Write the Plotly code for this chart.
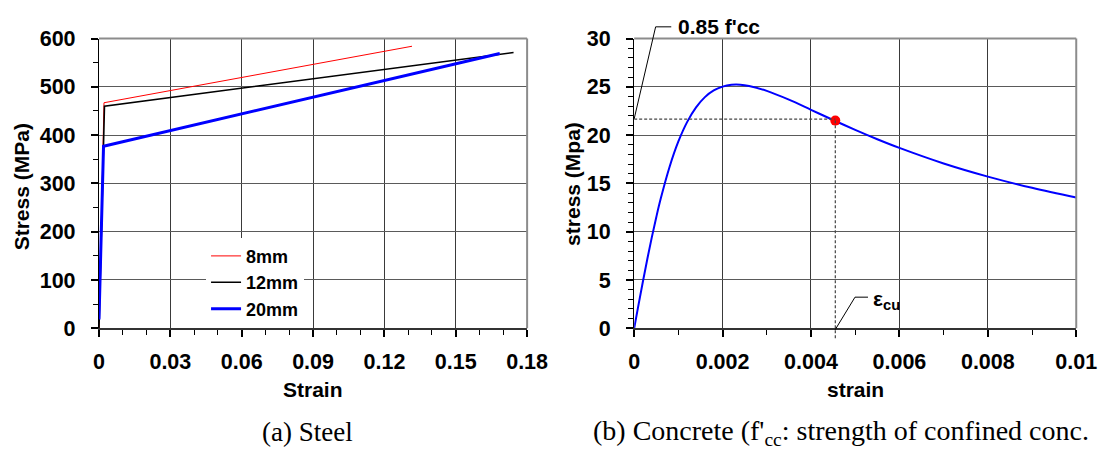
import plotly.graph_objects as go

W, H = 1119, 466

# ---------------- data ----------------
# (a) Steel stress-strain
strain_8mm = [0.0, 0.0021, 0.1316]
stress_8mm = [0, 467, 584]
strain_12mm = [0.0, 0.0023, 0.1743]
stress_12mm = [0, 460, 571]
strain_20mm = [0.0, 0.0019, 0.1685]
stress_20mm = [18, 377, 569]

steel_xticks = [0, 0.03, 0.06, 0.09, 0.12, 0.15, 0.18]
steel_xticktext = ["0", "0.03", "0.06", "0.09", "0.12", "0.15", "0.18"]
steel_yticks = [0, 100, 200, 300, 400, 500, 600]

# (b) Concrete stress-strain
conc_strain = [0, 0.0001, 0.0002, 0.0003, 0.0004, 0.0005, 0.0006, 0.0008, 0.001,
               0.0012, 0.0014, 0.0016, 0.0018, 0.002, 0.0022, 0.0024, 0.0026, 0.003,
               0.0035, 0.004, 0.0045, 0.005, 0.0055, 0.006, 0.007, 0.008, 0.009, 0.01]
conc_stress = [0, 2.48, 4.90, 7.23, 9.44, 11.50, 13.40, 16.70, 19.34,
               21.37, 22.87, 23.93, 24.62, 25.02, 25.21, 25.22, 25.09, 24.58,
               23.67, 22.62, 21.56, 20.54, 19.57, 18.67, 17.06, 15.70, 14.54, 13.54]
eps_cu = 0.00455
stress_cu = 21.5
fcc85 = 21.65

conc_xticks = [0, 0.002, 0.004, 0.006, 0.008, 0.01]
conc_xticktext = ["0", "0.002", "0.004", "0.006", "0.008", "0.01"]
conc_yticks = [0, 5, 10, 15, 20, 25, 30]

# ---------------- layout helpers ----------------
def px_x(p):
    return p / W

def px_y(p):
    return 1 - p / H

TOP, BOT = 29.0, 334.5
L1, R1 = 95.3, 534.0
L2, R2 = 643.7, 1096.7
ydom = [px_y(BOT), px_y(TOP)]

FONT = "Liberation Sans, Arial, sans-serif"
SERIF = "Liberation Serif, Times New Roman, serif"
tickfont = dict(family=FONT, size=21.5, color="black", weight="bold")

fig = go.Figure()

fig.add_trace(go.Scatter(x=strain_8mm, y=stress_8mm, mode="lines", name="8mm",
                         line=dict(color="#ff0000", width=1), xaxis="x", yaxis="y"))
fig.add_trace(go.Scatter(x=strain_12mm, y=stress_12mm, mode="lines", name="12mm",
                         line=dict(color="#000000", width=1.6), xaxis="x", yaxis="y"))
fig.add_trace(go.Scatter(x=strain_20mm, y=stress_20mm, mode="lines", name="20mm",
                         line=dict(color="#0000ff", width=3), xaxis="x", yaxis="y"))

fig.add_trace(go.Scatter(x=conc_strain, y=conc_stress, mode="lines", showlegend=False,
                         line=dict(color="#0000ff", width=2, shape="spline"),
                         xaxis="x2", yaxis="y2"))
fig.add_trace(go.Scatter(x=[eps_cu], y=[stress_cu], mode="markers", showlegend=False,
                         marker=dict(color="#ff0000", size=10),
                         xaxis="x2", yaxis="y2"))

def xaxis_cfg(domain, rng, tv, tt, minor_dt, anchor):
    return dict(domain=domain, range=rng, anchor=anchor, tickmode="array",
                tickvals=tv, ticktext=tt,
                showgrid=True, gridcolor="#3a3a3a", gridwidth=1,
                showline=True, linecolor="#333333", linewidth=2, zeroline=False,
                ticks="outside", ticklen=7, tickwidth=1.5, tickcolor="black",
                tickfont=tickfont, ticklabelstandoff=6,
                minor=dict(dtick=minor_dt, tick0=0, ticks="outside", ticklen=5,
                           tickwidth=1.2, tickcolor="black", showgrid=False))

def yaxis_cfg(anchor, rng, tv, minor_dt):
    return dict(domain=ydom, range=rng, anchor=anchor, tickmode="array", tickvals=tv,
                showgrid=True, gridcolor="#5a5a5a", gridwidth=1,
                showline=True, linecolor="black", linewidth=1.3, zeroline=False,
                ticks="outside", ticklen=7, tickwidth=1.5, tickcolor="black",
                tickfont=tickfont, ticklabelstandoff=11,
                minor=dict(dtick=minor_dt, tick0=0, ticks="outside", ticklen=5,
                           tickwidth=1.2, tickcolor="black", showgrid=False))

fig.update_layout(
    width=W, height=H, autosize=False,
    margin=dict(l=0, r=0, t=0, b=0),
    paper_bgcolor="white", plot_bgcolor="white",
    xaxis=xaxis_cfg([px_x(L1), px_x(R1)], [0, 0.18], steel_xticks, steel_xticktext, 0.01, "y"),
    yaxis=yaxis_cfg("x", [0, 600], steel_yticks, 50),
    xaxis2=xaxis_cfg([px_x(L2), px_x(R2)], [0, 0.01], conc_xticks, conc_xticktext, 0.001, "y2"),
    yaxis2=yaxis_cfg("x2", [0, 30], conc_yticks, 1),
    legend=dict(x=px_x(205), y=px_y(239), xanchor="left", yanchor="top",
                bgcolor="white", borderwidth=0, itemwidth=30,
                font=dict(family=FONT, size=18, color="black", weight="bold"),
                tracegroupgap=0),
    showlegend=True,
)

# top / right borders (gray)
shapes = []
for xr, yr in [("x", "y"), ("x2", "y2")]:
    shapes.append(dict(type="line", xref=f"{xr} domain", yref=f"{yr} domain",
                       x0=0, x1=1, y0=1, y1=1, line=dict(color="#8c8c8c", width=2)))
    shapes.append(dict(type="line", xref=f"{xr} domain", yref=f"{yr} domain",
                       x0=1, x1=1, y0=0, y1=1, line=dict(color="#8c8c8c", width=2)))

dash = dict(color="#444444", width=1.2, dash="3px,2px")
shapes.append(dict(type="line", xref="x2", yref="y2", x0=0, x1=eps_cu,
                   y0=fcc85, y1=fcc85, line=dash))
shapes.append(dict(type="line", xref="x2", yref="y2", x0=eps_cu, x1=eps_cu,
                   y0=0, y1=stress_cu, line=dash))
shapes.append(dict(type="line", xref="x2", yref="paper", x0=eps_cu, x1=eps_cu,
                   y0=px_y(345), y1=px_y(BOT), line=dash))

# leader lines
shapes.append(dict(type="path", xref="paper", yref="paper",
                   path=f"M{px_x(643.7)},{px_y(113.7)} L{px_x(665.7)},{px_y(16.7)} L{px_x(681.7)},{px_y(16.7)}",
                   line=dict(color="black", width=1)))
shapes.append(dict(type="path", xref="paper", yref="paper",
                   path=f"M{px_x(849.7)},{px_y(336)} L{px_x(870)},{px_y(301.7)} L{px_x(883.3)},{px_y(301.7)}",
                   line=dict(color="black", width=1)))
fig.update_layout(shapes=shapes)

bold = dict(family=FONT, size=21, color="black", weight="bold")
ann = [
    dict(text="Strain", x=px_x((L1 + R1) / 2), y=px_y(399), xref="paper", yref="paper",
         showarrow=False, font=bold, xanchor="center", yanchor="middle"),
    dict(text="Stress (MPa)", x=px_x(15.5), y=px_y((TOP + BOT) / 2 + 4), xref="paper", yref="paper",
         showarrow=False, font=bold, textangle=-90, xanchor="center", yanchor="middle"),
    dict(text="strain", x=px_x((L2 + R2) / 2), y=px_y(399), xref="paper", yref="paper",
         showarrow=False, font=bold, xanchor="center", yanchor="middle"),
    dict(text="stress (Mpa)", x=px_x(580.5), y=px_y((TOP + BOT) / 2), xref="paper", yref="paper",
         showarrow=False, font=bold, textangle=-90, xanchor="center", yanchor="middle"),
    dict(text="0.85 f'cc", x=px_x(687), y=px_y(16.5), xref="paper", yref="paper",
         showarrow=False, font=bold, xanchor="left", yanchor="middle"),
    dict(text="ε<sub>cu</sub>", x=px_x(886), y=px_y(305), xref="paper", yref="paper",
         showarrow=False, font=bold, xanchor="left", yanchor="middle"),
    dict(text="(a) Steel", x=px_x(309), y=px_y(444), xref="paper", yref="paper",
         showarrow=False, font=dict(family=SERIF, size=27, color="black"),
         xanchor="center", yanchor="middle"),
    dict(text="(b) Concrete (f'<sub>cc</sub>: strength of confined conc.", x=px_x(599), y=px_y(444),
         xref="paper", yref="paper", showarrow=False,
         font=dict(family=SERIF, size=28, color="black"),
         xanchor="left", yanchor="middle"),
]
fig.update_layout(annotations=ann)

fig.write_html("out.html")
